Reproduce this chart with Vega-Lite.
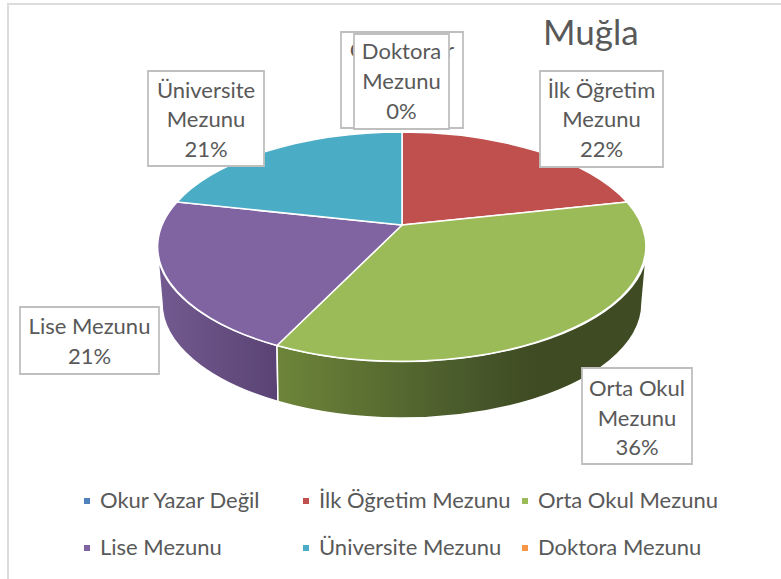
{
"$schema":"https://vega.github.io/schema/vega-lite/v6.json",
"width":781,"height":579,"padding":0,"autosize":"none",
"background":"white",
"view":{"stroke":null},
"config":{"font":"Lato"},
"title":{"text":"Muğla","anchor":"start","frame":"group","dx":543,"dy":52,"offset":0,"fontSize":35,"fontWeight":"normal","color":"#595959","font":"Lato"},
"data":{"values":[
{"category":"Okur Yazar Değil","percent":0,"label":"Okur Yazar\nDeğil\n0%"},
{"category":"İlk Öğretim Mezunu","percent":22,"label":"İlk Öğretim\nMezunu\n22%"},
{"category":"Orta Okul Mezunu","percent":36,"label":"Orta Okul\nMezunu\n36%"},
{"category":"Lise Mezunu","percent":21,"label":"Lise Mezunu\n21%"},
{"category":"Üniversite Mezunu","percent":21,"label":"Üniversite\nMezunu\n21%"},
{"category":"Doktora Mezunu","percent":0,"label":"Doktora\nMezunu\n0%"}
]},
"resolve":{"scale":{"shape":"independent"}},
"layer":[
{"transform":[{"filter":"datum.category==='Okur Yazar Değil'"}],
 "mark":{"type":"point","filled":true,"opacity":1,"size":4,"shape":"M390.5 -285.5H-382.5V289.5","fill":"transparent","stroke":"#dcdcdc","strokeWidth":2}},
{"transform":[{"filter":"datum.category==='Lise Mezunu'"}],
 "mark":{"type":"point","filled":true,"opacity":1,"size":4,"stroke":"white","strokeWidth":1.5,
 "shape":"M-233.5 -42.5A245 115 0 0 0 -113.5 56L-112.5 112A240 115 0 0 1 -228.5 13.5Z",
 "fill":{"x1":0,"y1":0,"x2":1,"y2":0,"gradient":"linear","stops":[{"offset":0,"color":"#735a90"},{"offset":1,"color":"#5a4374"}]}}},
{"transform":[{"filter":"datum.category==='Orta Okul Mezunu'"}],
 "mark":{"type":"point","filled":true,"opacity":1,"size":4,"stroke":"white","strokeWidth":1.5,
 "shape":"M256.5 -42.5A245 115 0 0 1 -113.5 56L-112.5 112A240 115 0 0 0 251.5 13.5Z",
 "fill":{"x1":0,"y1":0,"x2":1,"y2":0,"gradient":"linear","stops":[{"offset":0,"color":"#6d8539"},{"offset":0.55,"color":"#46562a"},{"offset":0.7,"color":"#3f4b22"},{"offset":1,"color":"#3f4b22"}]}}},
{"mark":{"type":"point","filled":true,"opacity":1,"size":4,"stroke":"white","strokeWidth":1.5},
 "encoding":{
  "color":{"field":"category","type":"nominal","sort":null,
   "scale":{"domain":["Okur Yazar Değil","İlk Öğretim Mezunu","Orta Okul Mezunu","Lise Mezunu","Üniversite Mezunu","Doktora Mezunu"],"range":["#4F81BD","#C0504D","#9BBB59","#8064A2","#4BACC6","#F79646"]},
   "legend":{"title":null,"orient":"none","direction":"horizontal","legendX":76,"legendY":490,"columns":3,"gridAlign":"all","columnPadding":3,"rowPadding":25,"symbolType":"square","symbolSize":36,"symbolStrokeWidth":0,"symbolOpacity":1,"labelFontSize":22,"labelColor":"#595959","labelFont":"Lato","labelLimit":300,"labelOffset":2}},
  "shape":{"field":"category","type":"nominal","legend":null,
   "scale":{"domain":["Okur Yazar Değil","İlk Öğretim Mezunu","Orta Okul Mezunu","Lise Mezunu","Üniversite Mezunu","Doktora Mezunu"],
   "range":["M11.5 -64.5Z","M11.5 -64.5L11.5 -157.5A245 115 0 0 1 236.5 -87.5Z","M11.5 -64.5L236.5 -87.5A245 115 0 0 1 -113.5 56Z","M11.5 -64.5L-113.5 56A245 115 0 0 1 -213.5 -87.5Z","M11.5 -64.5L-213.5 -87.5A245 115 0 0 1 11.5 -157.5Z","M11.5 -64.5Z"]}}
 }},
{"transform":[{"filter":"datum.category==='Okur Yazar Değil'"}],
 "mark":{"type":"point","filled":true,"opacity":1,"size":4,"fill":"white","stroke":"#bfbfbf","strokeWidth":1.8,"shape":"M-49.5 -257.5H72.5V-161.5H-49.5Z"}},
{"transform":[{"filter":"datum.category==='Okur Yazar Değil'"}],
 "mark":{"type":"text","lineBreak":"\n","lineHeight":30,"fontSize":22,"font":"Lato","color":"#595959","align":"center","baseline":"middle","dx":11.5,"dy":-239},
 "encoding":{"text":{"field":"label"}}},
{"transform":[{"filter":"datum.category!=='Okur Yazar Değil'"}],
 "mark":{"type":"point","filled":true,"opacity":1,"size":4,"fill":"white","stroke":"#bfbfbf","strokeWidth":1.8},
 "encoding":{"shape":{"field":"category","type":"nominal","legend":null,
  "scale":{"domain":["İlk Öğretim Mezunu","Orta Okul Mezunu","Lise Mezunu","Üniversite Mezunu","Doktora Mezunu"],
  "range":["M149.5 -218.5H272.5V-122.5H149.5Z","M191.5 78.5H301.5V174.5H191.5Z","M-370.5 17.5H-231.5V84.5H-370.5Z","M-242.5 -218.5H-126.5V-123.5H-242.5Z","M-36.5 -255.5H58.5V-160.5H-36.5Z"]}}}},
{"transform":[{"filter":"datum.category==='İlk Öğretim Mezunu'"}],
 "mark":{"type":"text","lineBreak":"\n","lineHeight":29.5,"fontSize":22,"font":"Lato","color":"#595959","align":"center","baseline":"middle","dx":211,"dy":-199},
 "encoding":{"text":{"field":"label"}}},
{"transform":[{"filter":"datum.category==='Orta Okul Mezunu'"}],
 "mark":{"type":"text","lineBreak":"\n","lineHeight":29.5,"fontSize":22,"font":"Lato","color":"#595959","align":"center","baseline":"middle","dx":246.5,"dy":99.5},
 "encoding":{"text":{"field":"label"}}},
{"transform":[{"filter":"datum.category==='Lise Mezunu'"}],
 "mark":{"type":"text","lineBreak":"\n","lineHeight":30,"fontSize":22,"font":"Lato","color":"#595959","align":"center","baseline":"middle","dx":-301,"dy":37.5},
 "encoding":{"text":{"field":"label"}}},
{"transform":[{"filter":"datum.category==='Üniversite Mezunu'"}],
 "mark":{"type":"text","lineBreak":"\n","lineHeight":29.5,"fontSize":22,"font":"Lato","color":"#595959","align":"center","baseline":"middle","dx":-184.5,"dy":-199},
 "encoding":{"text":{"field":"label"}}},
{"transform":[{"filter":"datum.category==='Doktora Mezunu'"}],
 "mark":{"type":"text","lineBreak":"\n","lineHeight":30,"fontSize":22,"font":"Lato","color":"#595959","align":"center","baseline":"middle","dx":11,"dy":-237.5},
 "encoding":{"text":{"field":"label"}}}
]
}
